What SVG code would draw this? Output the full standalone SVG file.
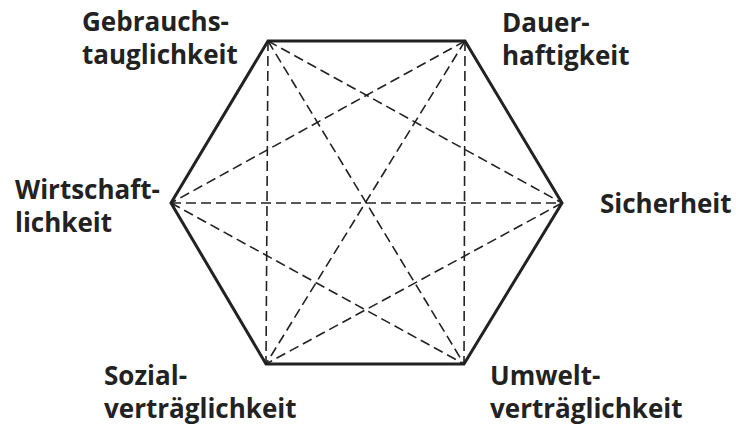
<svg xmlns="http://www.w3.org/2000/svg" width="736" height="425" viewBox="0 0 736 425">
<style>
.lbl{font-family:"Open Sans","Noto Sans","Liberation Sans",sans-serif;font-weight:bold;font-size:26px;fill:#222}
.hex{fill:none;stroke:#222;stroke-width:3;stroke-linejoin:miter}
.dash{fill:none;stroke:#222;stroke-width:1.6;stroke-dasharray:10,5}
</style>
<rect width="736" height="425" fill="#fff"/>
<g id="hexagon">
<polygon class="hex" points="268,41 465,41 562,203 464,364 266,364 171,203"/>
</g>
<g id="connectors">
<line class="dash" x1="268" y1="41" x2="266" y2="364"/>
<line class="dash" x1="465" y1="41" x2="464" y2="364"/>
<line class="dash" x1="171" y1="203" x2="562" y2="203"/>
<line class="dash" x1="268" y1="41" x2="562" y2="203"/>
<line class="dash" x1="268" y1="41" x2="464" y2="364"/>
<line class="dash" x1="465" y1="41" x2="171" y2="203"/>
<line class="dash" x1="465" y1="41" x2="266" y2="364"/>
<line class="dash" x1="171" y1="203" x2="464" y2="364"/>
<line class="dash" x1="562" y1="203" x2="266" y2="364"/>
</g>
<g id="gebrauchstauglichkeit">
<text class="lbl" x="82" y="31">Gebrauchs-</text>
<text class="lbl" x="82" y="64">tauglichkeit</text>
</g>
<g id="dauerhaftigkeit">
<text class="lbl" x="502" y="32">Dauer-</text>
<text class="lbl" x="502" y="65">haftigkeit</text>
</g>
<g id="wirtschaftlichkeit">
<text class="lbl" x="15" y="199">Wirtschaft-</text>
<text class="lbl" x="15" y="232">lichkeit</text>
</g>
<g id="sicherheit">
<text class="lbl" x="600" y="213">Sicherheit</text>
</g>
<g id="sozialvertraeglichkeit">
<text class="lbl" x="104" y="385">Sozial-</text>
<text class="lbl" x="104" y="418">verträglichkeit</text>
</g>
<g id="umweltvertraeglichkeit">
<text class="lbl" x="490" y="385">Umwelt-</text>
<text class="lbl" x="490" y="418">verträglichkeit</text>
</g>
</svg>
